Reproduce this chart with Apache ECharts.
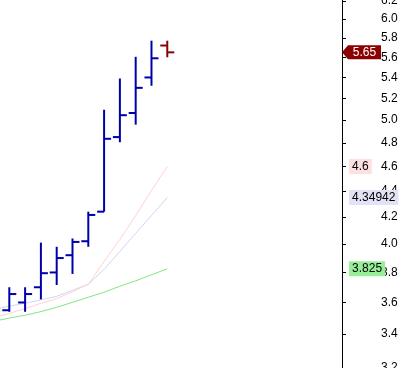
<!DOCTYPE html>
<html>
<head>
<meta charset="utf-8">
<script src="https://cdn.jsdelivr.net/npm/echarts@6/dist/echarts.min.js"></script>
<style>
html,body{margin:0;padding:0;background:#fff;}
#chart{width:401px;height:368px;}
</style>
</head>
<body>
<div id="chart"></div>
<script>
// ---- data ----
const barIndex = [0, 1, 2, 3, 4, 5, 6, 7, 8, 9, 10];
const opens  = [3.55, 3.60, 3.70, 3.80, 3.92, 4.02, 4.24, 4.85, 5.065, 5.40, 5.72];
const highs  = [3.70, 3.70, 4.01, 3.98, 4.04, 4.24, 5.095, 5.39, 5.605, 5.77, 5.77];
const lows   = [3.54, 3.54, 3.62, 3.715, 3.79, 3.98, 4.24, 4.805, 4.96, 5.32, 5.60];
const closes = [3.655, 3.655, 3.795, 3.90, 4.015, 4.215, 4.835, 5.045, 5.30, 5.59, 5.65];

const lineIndex = [-1, 0, 1, 2, 3, 4, 5, 6, 7, 8, 9, 10];
const pinkLine     = [3.50, 3.53, 3.56, 3.595, 3.625, 3.67, 3.72, 3.877, 4.033, 4.21, 4.405, 4.6];
const lavenderLine = [3.554, 3.576, 3.595, 3.617, 3.64, 3.68, 3.72, 3.821, 3.947, 4.077, 4.211, 4.34942];
const greenLine    = [3.48, 3.50, 3.518, 3.541, 3.569, 3.601, 3.634, 3.667, 3.707, 3.743, 3.784, 3.825];

const yTicks = [3.2, 3.4, 3.6, 3.8, 4.0, 4.2, 4.4, 4.6, 4.8, 5.0, 5.2, 5.4, 5.6, 5.8, 6.0, 6.2];

// ---- chart ----
const X_MIN = -0.589, X_MAX = 21.06;
const Y_MIN = 3.199, Y_MAX = 6.209;
const FONT = "'Liberation Sans', Arial, sans-serif";
const UP = '#0000aa', DOWN = '#8b0000';

const ohlc = barIndex.map((x, i) => [x, opens[i], highs[i], lows[i], closes[i]]);
const mk = (idx, vals) => idx.map((x, i) => [x, vals[i]]);

function badge(value, bg, fg) {
  return {
    symbol: 'rect', symbolSize: [0.1, 0.1], silent: true,
    itemStyle: { color: 'rgba(0,0,0,0)' },
    label: {
      show: true, position: 'right', distance: 7,
      formatter: String(value),
      backgroundColor: bg, color: fg, padding: [2, 3, 1, 3],
      fontFamily: FONT, fontSize: 12, lineHeight: 12, verticalAlign: 'middle'
    },
    data: [{ coord: [X_MAX, value], value: value }]
  };
}

const chart = echarts.init(document.getElementById('chart'), null, { renderer: 'canvas' });
chart.setOption({
  animation: false,
  backgroundColor: '#ffffff',
  grid: { left: 0, right: 59, top: 0, bottom: 0, containLabel: false, outerBoundsMode: 'none' },
  xAxis: { type: 'value', min: X_MIN, max: X_MAX, show: false, splitLine: { show: false } },
  yAxis: {
    type: 'log', position: 'right', min: Y_MIN, max: Y_MAX,
    splitLine: { show: false },
    axisLine: { show: true, onZero: false, lineStyle: { color: '#000', width: 1 } },
    axisTick: { show: true, inside: false, length: 4, customValues: yTicks, lineStyle: { color: '#000' } },
    axisLabel: {
      show: true, customValues: yTicks, margin: 39, align: 'left',
      color: '#000', fontFamily: FONT, fontSize: 12,
      formatter: v => Number(v).toFixed(1)
    }
  },
  series: [
    {
      type: 'line', data: mk(lineIndex, greenLine), showSymbol: false, silent: true,
      lineStyle: { color: '#7ee87e', width: 1 }, z: 1,
      markPoint: badge(3.825, '#98ee98', '#000')
    },
    {
      type: 'line', data: mk(lineIndex, lavenderLine), showSymbol: false, silent: true,
      lineStyle: { color: '#d4d4f6', width: 1 }, z: 1,
      markPoint: badge(4.34942, '#e2e2f6', '#000')
    },
    {
      type: 'line', data: mk(lineIndex, pinkLine), showSymbol: false, silent: true,
      lineStyle: { color: '#ffd2d2', width: 1 }, z: 1,
      markPoint: badge(4.6, '#fde0e0', '#000')
    },
    {
      type: 'custom', data: ohlc, silent: true, z: 3,
      renderItem: function (params, api) {
        const x = api.value(0);
        const o = api.coord([x, api.value(1)]);
        const h = api.coord([x, api.value(2)]);
        const l = api.coord([x, api.value(3)]);
        const c = api.coord([x, api.value(4)]);
        const color = api.value(4) >= api.value(1) ? UP : DOWN;
        const xs = o[0];
        const st = { stroke: color, lineWidth: 2 };
        return {
          type: 'group', children: [
            { type: 'line', shape: { x1: xs, y1: h[1], x2: xs, y2: l[1] }, style: st },
            { type: 'line', shape: { x1: xs - 7, y1: o[1], x2: xs, y2: o[1] }, style: st },
            { type: 'line', shape: { x1: xs, y1: c[1], x2: xs + 7, y2: c[1] }, style: st }
          ]
        };
      },
      markPoint: {
        silent: true,
        symbol: 'path://M0,7 L6,0 L39,0 L39,14 L6,14 Z',
        symbolSize: [39, 14], symbolOffset: [19.5, 0],
        itemStyle: { color: DOWN },
        label: {
          show: true, position: 'inside', offset: [3, 0],
          formatter: String(closes[closes.length - 1]),
          color: '#fff', fontFamily: FONT, fontSize: 12
        },
        data: [{ coord: [X_MAX, closes[closes.length - 1]], value: closes[closes.length - 1] }]
      }
    }
  ]
});
</script>
</body>
</html>
